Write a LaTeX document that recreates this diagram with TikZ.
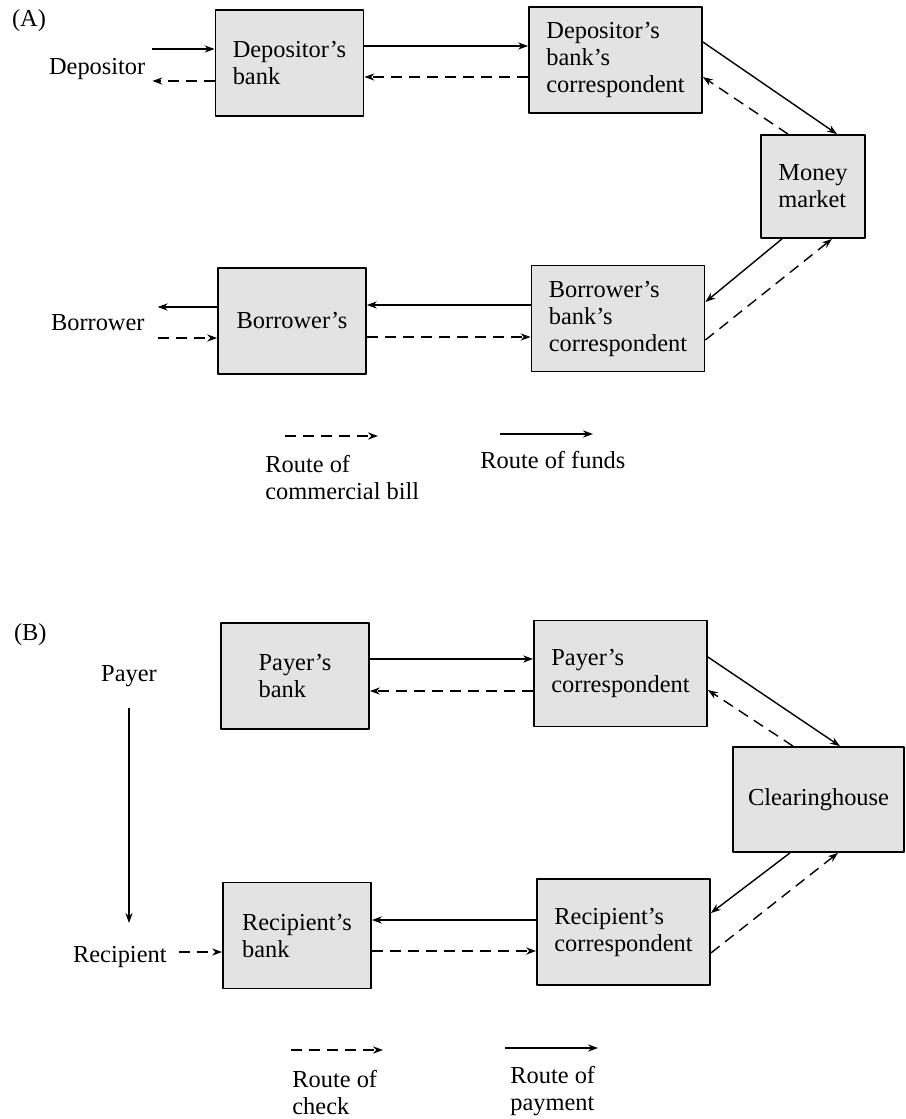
\documentclass[tikz,border=0pt]{standalone}
\usepackage{fontspec}
\setmainfont{Liberation Serif}
\usetikzlibrary{arrows.meta}
\begin{document}
\begin{tikzpicture}[x=0.5pt, y=-0.5pt, line join=round, >={Stealth[length=5pt,width=3.6pt]},
		font=\fontsize{12.2}{13.5}\selectfont,
		box/.style={draw, fill=black!11, line width=0.9pt, align=left, inner sep=0pt},
		small/.style={box, minimum width=74pt, minimum height=53pt},
		large/.style={box, minimum width=86.5pt, minimum height=53pt},
		funds/.style={->, line width=0.7pt},
		bill/.style={->, line width=0.7pt, dash pattern=on 5.5pt off 3.5pt}]
	\useasboundingbox (0,0) rectangle (905,1119);
	% (A) commercial bill
	\node[anchor=base west] (partA) at (5,26) {(A)};
	\node[anchor=base west] (dep) at (42,74) {Depositor};
	\node[anchor=base west] (bor) at (44,330) {Borrower};
	\node[small] (db) at (289.5,63) {Depositor's\\bank};
	\node[large] (dbc) at (615.5,60) {Depositor's\\bank's\\correspondent};
	\node[box, minimum width=52pt, minimum height=51.5pt] (mm) at (813,186.5) {Money\\market};
	\node[large] (bbc) at (618,318.5) {Borrower's\\bank's\\correspondent};
	\node[small] (bb) at (292,321) {Borrower's};
	\draw[funds] (dep.east |- 0,49) -- (db.west |- 0,49);
	\draw[bill] (db.west |- 0,81) -- (dep.east |- 0,81);
	\draw[funds] (db.east |- 0,46) -- (dbc.west |- 0,46);
	\draw[bill] (dbc.west |- 0,77) -- (db.east |- 0,77);
	\draw[funds] (dbc.east |- 0,42) -- (mm.north -| 837,0);
	\draw[bill] (mm.north -| 788,0) -- (dbc.east |- 0,77);
	\draw[funds] (mm.south -| 782,0) -- (bbc.east |- 0,302);
	\draw[bill] (bbc.east |- 0,340) -- (mm.south -| 832,0);
	\draw[funds] (bbc.west |- 0,305) -- (bb.east |- 0,305);
	\draw[bill] (bb.east |- 0,337) -- (bbc.west |- 0,337);
	\draw[funds] (bb.west |- 0,307) -- ([xshift=3pt]bor.east |- 0,307);
	\draw[bill] ([xshift=3pt]bor.east |- 0,338) -- (bb.west |- 0,338);
	% legend A
	\draw[bill] (285,436) -- (378,436);
	\draw[funds] (500,434) -- (593,434);
	\node[anchor=north west, inner sep=0pt, align=left] (legbill) at (265,455) {Route of\\commercial bill};
	\node[anchor=base west, inner sep=0pt] (legfunds) at (480,468) {Route of funds};

	% (B) check
	\node[anchor=base west] (partB) at (7,640) {(B)};
	\node[anchor=base] (payer) at (129,681) {Payer};
	\node[anchor=base west] (recip) at (66,962) {Recipient};
	\coordinate (payerend) at (129,923);
	\node[small] (pb) at (295,676) {Payer's\\bank};
	\node[large] (pc) at (620.5,673.5) {Payer's\\correspondent};
	\node[box, minimum width=85.5pt, minimum height=52.5pt] (ch) at (818.5,799.5) {Clearinghouse};
	\node[large] (rc) at (623.5,932) {Recipient's\\correspondent};
	\node[small] (rb) at (297,935.5) {Recipient's\\bank};
	\draw[funds] ([yshift=-7.5pt]payer.south) -- (payerend);
	\draw[funds] (pb.east |- 0,659) -- (pc.west |- 0,659);
	\draw[bill] (pc.west |- 0,691) -- (pb.east |- 0,691);
	\draw[funds] (pc.east |- 0,657) -- (ch.north -| 840,0);
	\draw[bill] (ch.north -| 793,0) -- (pc.east |- 0,690);
	\draw[funds] (ch.south -| 790,0) -- (rc.east |- 0,913);
	\draw[bill] (rc.east |- 0,953) -- (ch.south -| 838,0);
	\draw[funds] (rc.west |- 0,920) -- (rb.east |- 0,920);
	\draw[bill] (rb.east |- 0,951) -- (rc.west |- 0,951);
	\draw[bill] ([xshift=2.5pt]recip.east |- 0,952) -- (rb.west |- 0,952);
	% legend B
	\draw[bill] (291,1050) -- (383,1050);
	\draw[funds] (505,1048) -- (598,1048);
	\node[anchor=north west, inner sep=0pt, align=left] (legcheck) at (292,1070) {Route of\\check};
	\node[anchor=north west, inner sep=0pt, align=left] (legpay) at (510,1066) {Route of\\payment};
\end{tikzpicture}
\end{document}
